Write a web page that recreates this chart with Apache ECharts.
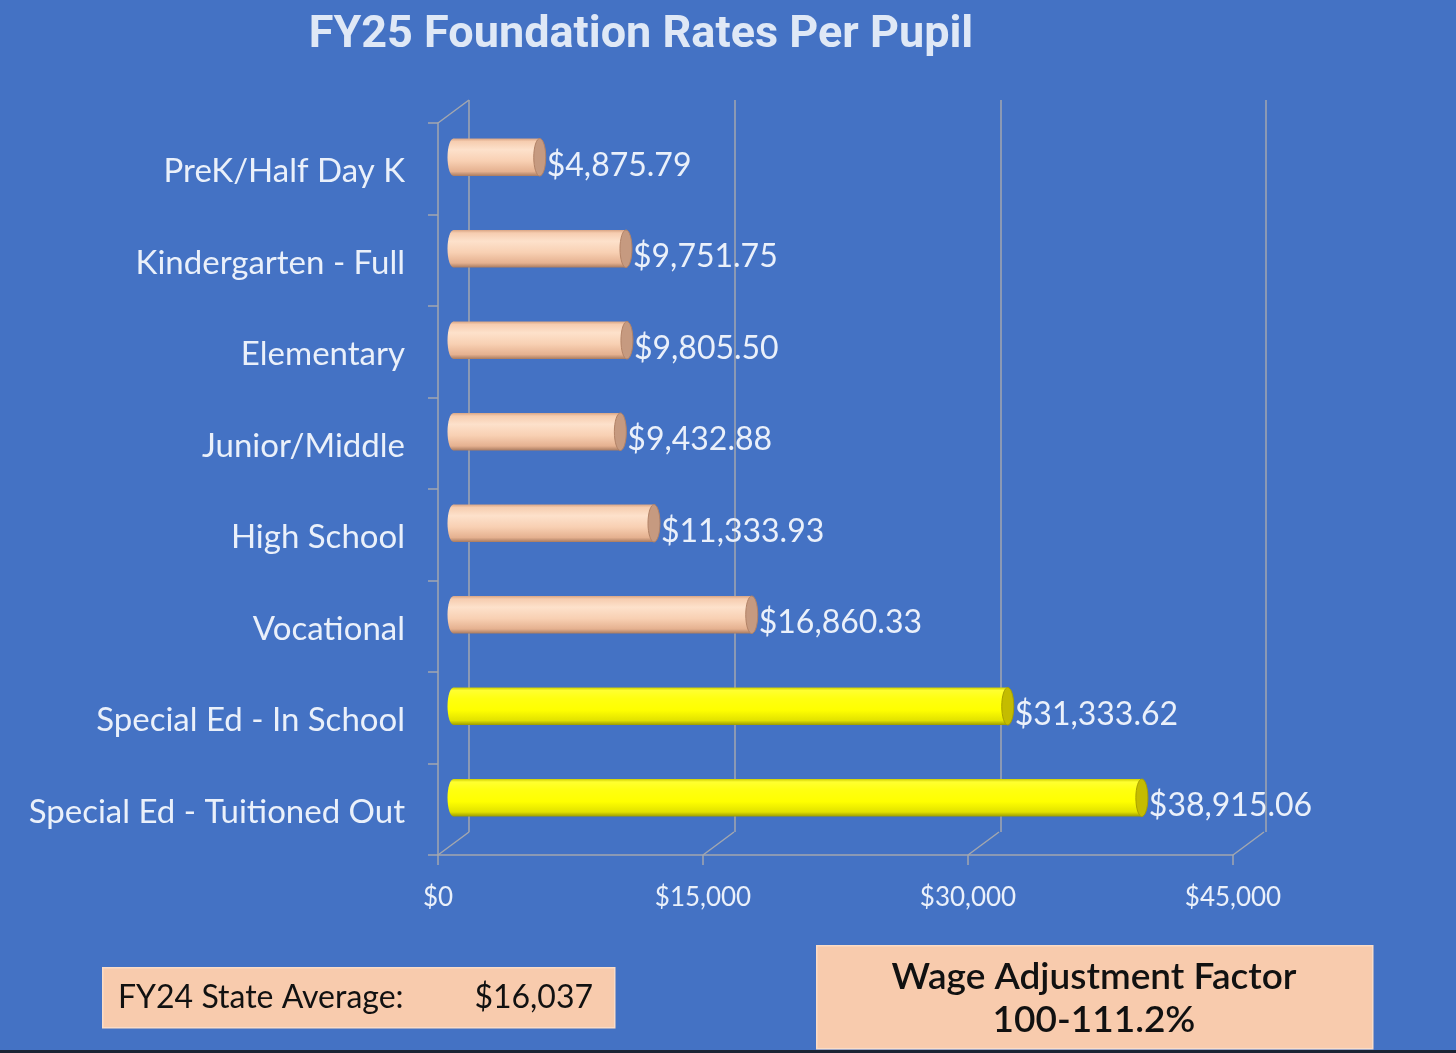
<!DOCTYPE html>
<html><head><meta charset="utf-8">
<script src="https://cdn.jsdelivr.net/npm/echarts@6/dist/echarts.min.js"></script>
<style>html,body{margin:0;padding:0;background:#4472C4}#c{width:1456px;height:1053px}</style>
</head><body><div id="c"></div><script>
const categories = ['PreK/Half Day K','Kindergarten - Full','Elementary','Junior/Middle','High School','Vocational','Special Ed - In School','Special Ed - Tuitioned Out'];
const rates = [4875.79, 9751.75, 9805.50, 9432.88, 11333.93, 16860.33, 31333.62, 38915.06];
const barGroups = ['peach','peach','peach','peach','peach','peach','yellow','yellow'];
const xTicks = [0, 15000, 30000, 45000];
const xMin = 0, xMax = 45000, xInterval = 15000;
const titleText = 'FY25 Foundation Rates Per Pupil';
const stateAvgLabel = 'FY24 State Average:';
const stateAvgValue = '$16,037';
const wageLines = ['Wage Adjustment Factor', '100-111.2%'];

const FONT = 'Lato, "Open Sans", sans-serif';
const TXT = '#EAF0FA';
const GRIDC = '#A3A7AF';
const front = {left: 438, top: 123, width: 795, height: 732};
const depth = {dx: 31, dy: -23};
const back = {left: front.left + depth.dx, top: front.top + depth.dy, width: 797, height: front.height};
const mid = {left: front.left + depth.dx / 2, top: front.top + depth.dy / 2, width: 796, height: front.height};
const barRatio = 0.41, capR = 6;
const palettes = {
  peach: {stops: ['#D9A584', '#F6CDB0', '#FDE1CB', '#F8D0B3', '#E5B190', '#A97B60'], cap: '#C69A80', capEdge: '#B28266'},
  yellow: {stops: ['#CFCF00', '#FFFF30', '#FFFF10', '#FFFF00', '#E2E200', '#9C9C00'], cap: '#C4BC00', capEdge: '#A8A000'}
};
const fmtMoney2 = v => '$' + v.toLocaleString('en-US', {minimumFractionDigits: 2, maximumFractionDigits: 2});
const fmtMoney0 = v => '$' + v.toLocaleString('en-US');

function gradFor(p) {
  const s = p.stops;
  return new echarts.graphic.LinearGradient(0, 0, 0, 1, [
    {offset: 0, color: s[0]}, {offset: 0.08, color: s[1]}, {offset: 0.3, color: s[2]},
    {offset: 0.6, color: s[3]}, {offset: 0.88, color: s[4]}, {offset: 1, color: s[5]}
  ]);
}

function renderBar(params, api) {
  const v = api.value(0), idx = api.value(1);
  const p0 = api.coord([0, idx]), p1 = api.coord([v, idx]);
  const h = api.size([0, 1])[1] * barRatio;
  const cy = p0[1], x0 = p0[0], x1 = p1[0];
  const pal = palettes[barGroups[idx]];
  const g = gradFor(pal);
  return {type: 'group', children: [
    {type: 'ellipse', shape: {cx: x0, cy: cy, rx: capR, ry: h / 2}, style: {fill: g}},
    {type: 'rect', shape: {x: x0, y: cy - h / 2, width: x1 - x0, height: h}, style: {fill: g}},
    {type: 'ellipse', shape: {cx: x1, cy: cy, rx: capR, ry: h / 2}, style: {fill: pal.cap, stroke: pal.capEdge, lineWidth: 1}},
    {type: 'text', style: {text: fmtMoney2(v), x: x1 + capR + 1, y: cy + 8, align: 'left', verticalAlign: 'middle', fill: TXT, font: '32px ' + FONT}}
  ]};
}

function renderDiag(params, api) {
  const v = api.value(0);
  const cs = params.coordSys;
  const px = api.coord([v, 0])[0];
  const by = cs.y + cs.height;
  const ch = [{type: 'line', shape: {x1: px, y1: by, x2: px + depth.dx, y2: by + depth.dy}, style: {stroke: GRIDC, lineWidth: 1.5}}];
  if (v === xMin) {
    ch.push({type: 'line', shape: {x1: cs.x, y1: cs.y, x2: cs.x + depth.dx, y2: cs.y + depth.dy}, style: {stroke: GRIDC, lineWidth: 1.5}});
  }
  return {type: 'group', children: ch};
}

const chart = echarts.init(document.getElementById('c'));
const hiddenX = (gi, split) => ({gridIndex: gi, type: 'value', min: xMin, max: xMax, interval: xInterval,
  axisLabel: {show: false}, axisLine: {show: false}, axisTick: {show: false},
  splitLine: {show: split, lineStyle: {color: GRIDC, width: 1.5}}});
const hiddenY = gi => ({gridIndex: gi, type: 'category', inverse: true, data: categories,
  axisLabel: {show: false}, axisLine: {show: false}, axisTick: {show: false}, splitLine: {show: false}});

chart.setOption({
  backgroundColor: '#4472C4',
  animation: false,
  title: {text: titleText, left: 636, top: 8, textAlign: 'center',
    textStyle: {color: '#DFE8F6', fontSize: 45, fontWeight: 'bold', fontFamily: 'Roboto, sans-serif'}},
  grid: [
    Object.assign({containLabel: false}, front),
    Object.assign({containLabel: false}, back),
    Object.assign({containLabel: false}, mid)
  ],
  xAxis: [
    {gridIndex: 0, type: 'value', min: xMin, max: xMax, interval: xInterval,
      axisLine: {show: true, lineStyle: {color: GRIDC, width: 1.5}},
      axisTick: {show: true, length: 10, lineStyle: {color: GRIDC, width: 1.5}},
      axisLabel: {color: TXT, fontSize: 26, fontFamily: FONT, margin: 30, formatter: v => fmtMoney0(v)},
      splitLine: {show: false}},
    hiddenX(1, true),
    hiddenX(2, false)
  ],
  yAxis: [
    {gridIndex: 0, type: 'category', inverse: true, data: categories,
      axisLine: {show: true, lineStyle: {color: GRIDC, width: 1.5}},
      axisTick: {show: true, length: 10, lineStyle: {color: GRIDC, width: 1.5}},
      axisLabel: {margin: 33, formatter: v => '{c|' + v + '}',
        rich: {c: {color: TXT, fontSize: 33, fontFamily: FONT, padding: [6, 0, 0, 0]}}},
      splitLine: {show: false}},
    hiddenY(1),
    hiddenY(2)
  ],
  series: [
    {type: 'custom', name: 'floor', xAxisIndex: 0, yAxisIndex: 0, renderItem: renderDiag,
      data: xTicks.map(v => [v]), encode: {x: 0}, silent: true, z: 1},
    {type: 'custom', name: 'Rate', xAxisIndex: 2, yAxisIndex: 2, renderItem: renderBar,
      data: rates.map((v, i) => [v, i]), encode: {x: 0, y: 1}, z: 5}
  ],
  graphic: [
    {type: 'rect', left: 102, top: 967, shape: {width: 512, height: 60}, style: {fill: '#F8CBAD', stroke: '#FBDCC6', lineWidth: 1.5}},
    {type: 'text', x: 118, y: 998, style: {text: stateAvgLabel, verticalAlign: 'middle', fill: '#111', font: '32px ' + FONT}},
    {type: 'text', x: 593, y: 998, style: {text: stateAvgValue, align: 'right', verticalAlign: 'middle', fill: '#111', font: '32px ' + FONT}},
    {type: 'rect', left: 816, top: 945, shape: {width: 556, height: 103}, style: {fill: '#F8CBAD', stroke: '#FBDCC6', lineWidth: 1.5}},
    {type: 'text', x: 1094, y: 977, style: {text: wageLines[0], align: 'center', verticalAlign: 'middle', fill: '#111', font: '600 37px ' + FONT}},
    {type: 'text', x: 1094, y: 1020, style: {text: wageLines[1], align: 'center', verticalAlign: 'middle', fill: '#111', font: '600 37px ' + FONT}},
    {type: 'rect', left: 0, top: 1050, shape: {width: 1456, height: 3}, style: {fill: '#1B2434'}}
  ]
});
</script></body></html>
